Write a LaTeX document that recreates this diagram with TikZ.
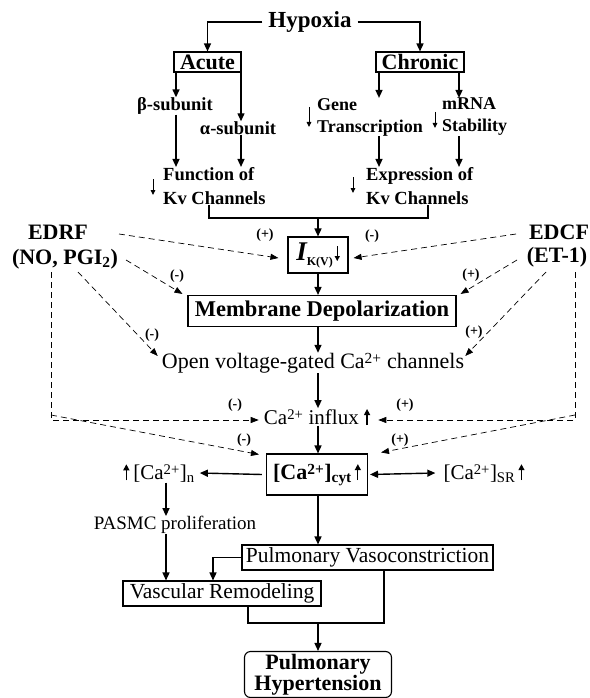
\documentclass[tikz,border=0pt]{standalone}
\usepackage{fontspec}
\setmainfont{Liberation Serif}
\usetikzlibrary{arrows.meta,calc}
\newcommand{\fsz}[1]{\fontsize{#1}{#1}\selectfont}
\newcommand{\spp}[1]{\textsuperscript{\raisebox{-0.2em}{#1}}}
\newcommand{\UA}{\tikz[baseline=0pt,x=1pt,y=1pt]{\draw[line width=1.3pt,-{Triangle[length=6pt,width=6pt]}] (0,-1) -- (0,15);}}
\newcommand{\DA}{\tikz[baseline=0pt,x=1pt,y=1pt]{\draw[line width=1.1pt,-{Triangle[length=5pt,width=5pt]}] (0,14) -- (0,-1);}}
\begin{document}
\begin{tikzpicture}[x=1pt,y=-1pt,
  ar/.style={line width=1.4pt,-{Triangle[length=8pt,width=7pt]}},
  sar/.style={line width=0.9pt,-{Triangle[length=5pt,width=4.5pt]}},
  da/.style={line width=0.7pt,dash pattern=on 6pt off 4pt,-{Triangle[length=8pt,width=6pt]}},
  bx/.style={draw,line width=1.1pt,inner sep=2pt},
  lab/.style={font=\fsz{14}\bfseries,inner sep=0pt},
  bt/.style={inner sep=0pt}]
\useasboundingbox (0,0) rectangle (589,698);

% top part
\node[bt,inner xsep=6pt,font=\fsz{23}\bfseries] (hyp) at (310,22) {Hypoxia};
\node[bx,inner sep=0pt,minimum width=67pt,minimum height=20pt,font=\fsz{22}\bfseries] (acute) at (207.5,62) {Acute};
\node[bx,inner sep=0pt,minimum width=88pt,minimum height=20pt,font=\fsz{22}\bfseries] (chronic) at (420,62) {Chronic};
\draw[ar] (hyp.west) -| (acute.north);
\draw[ar] (hyp.east) -| (chronic.north);

\node[bt,font=\fsz{18.5}\bfseries] (beta) at (175,106) {β-subunit};
\node[bt,font=\fsz{18.5}\bfseries] (alpha) at (238,128) {α-subunit};
\node[bt,anchor=west,align=left,font=\fontsize{18.5}{24.5}\selectfont\bfseries] (func) at (163,186) {Function of\\Kv Channels};
\node[bt,anchor=west,align=left,font=\fontsize{18}{22}\selectfont\bfseries] (gene) at (317,117) {Gene\\Transcription};
\node[bt,anchor=west,align=left,font=\fontsize{18}{22}\selectfont\bfseries] (mrna) at (442,117) {mRNA\\Stability};
\node[bt,anchor=west,align=left,font=\fontsize{18.5}{24.5}\selectfont\bfseries] (expr) at (366,186) {Expression of\\Kv Channels};

\coordinate (cB) at (176,0);
\coordinate (cA) at (241,0);
\coordinate (cG) at (379,0);
\coordinate (cM) at (459,0);
\draw[ar] (acute.south -| cB) -- (beta.north -| cB);
\draw[ar] (acute.south -| cA) -- (alpha.north -| cA);
\draw[ar] (beta.south -| cB) -- (func.north -| cB);
\draw[ar] (alpha.south -| cA) -- (func.north -| cA);
\draw[ar] (chronic.south -| cG) -- (gene.north -| cG);
\draw[ar] (chronic.south -| cM) -- (mrna.north -| cM);
\draw[ar] (gene.south -| cG) -- (expr.north -| cG);
\draw[ar] (mrna.south -| cM) -- (expr.north -| cM);

% small down arrows
\draw[sar] ($(func.west)+(-10,-7)$) -- ($(func.west)+(-10,9)$);
\draw[sar] ($(gene.west)+(-8,-10)$) -- ($(gene.west)+(-8,10)$);
\draw[sar] ($(mrna.west)+(-7,-5)$) -- ($(mrna.west)+(-7,11)$);
\draw[sar] ($(expr.west)+(-13,-9)$) -- ($(expr.west)+(-13,7)$);

% bracket
\coordinate (bl) at (209,218);
\coordinate (br) at (428,218);
\coordinate (bm) at (318,218);
\draw[line width=1.4pt] (func.south -| bl) -- (bl) -- (br) -- (expr.south -| br);

% central column
\node[bx,minimum width=60pt,minimum height=36pt,inner sep=1pt] (ik) at (318,255)
  {{\fsz{27}\bfseries\itshape I}\raisebox{-5pt}{\fsz{12}\bfseries K(V)}\hspace{2pt}\DA};
\draw[ar] (bm) -- (ik.north);
\node[bx,minimum width=268pt,minimum height=31pt,inner sep=0pt,font=\fsz{22.5}\bfseries] (md) at (322,311) {Membrane Depolarization};
\draw[ar] (ik.south) -- (md.north -| ik.south);
\node[bt,font=\fsz{22}] (open) at (313,363) {Open voltage-gated Ca\spp{2+} channels};
\draw[ar] (md.south -| bm) -- (open.north -| bm);
\node[bt,font=\fsz{21}] (influx) at (317,417) {Ca\spp{2+} influx \UA};
\draw[ar] (open.south -| bm) -- (influx.north -| bm);
\node[bx,minimum width=101pt,minimum height=41pt,font=\fsz{22}\bfseries] (cyt) at (317,474.5)
  {[Ca\spp{2+}]\textsubscript{cyt}\hspace{3pt}\UA};
\draw[ar] (influx.south -| bm) -- (cyt.north -| bm);
\node[bt,font=\fsz{21}] (can) at (159,473) {\UA\hspace{4pt}[Ca\spp{2+}]\textsubscript{n}};
\node[bt,font=\fsz{21}] (sr) at (484,473) {[Ca\spp{2+}]\textsubscript{SR}\hspace{3pt}\UA};
\draw[ar] ([xshift=-4pt]cyt.west) -- ([xshift=5pt]can.east);
\draw[line width=1.4pt,{Triangle[length=8pt,width=7pt]}-{Triangle[length=8pt,width=7pt]}] ([xshift=2pt]cyt.east) -- ([xshift=-8pt]sr.west);

\coordinate (cP) at (166,0);
\node[bt,font=\fsz{19}] (pasmc) at (175,525) {PASMC proliferation};
\draw[ar] (can.south -| cP) -- (pasmc.north -| cP);

\node[bx,minimum width=251pt,minimum height=25pt,inner sep=0pt,font=\fsz{21.5}] (pv) at (367.5,557.5) {Pulmonary Vasoconstriction};
\node[bx,minimum width=198pt,minimum height=25pt,inner sep=0pt,font=\fsz{21.5}] (vr) at (222,593.5) {Vascular Remodeling};
\draw[ar] (cyt.south -| bm) -- (pv.north -| bm);
\draw[ar] (pasmc.south -| cP) -- (vr.north -| cP);
\coordinate (cV) at (213,0);
\draw[ar] (pv.west) -| (vr.north -| cV);

\node[draw,line width=1.1pt,rounded corners=6pt,minimum width=147pt,minimum height=46pt,inner sep=0pt,align=center,
  font=\fontsize{22}{21}\selectfont\bfseries] (ph) at (318,674.5) {Pulmonary\\Hypertension};
\coordinate (jL) at (248,623);
\coordinate (jR) at (384,623);
\draw[line width=1.4pt] (vr.south -| jL) -- (jL) -- (jR) -- (pv.south -| jR);
\draw[ar] (ph.north |- jL) -- (ph.north);

% side factors
\node[bt,font=\fsz{22}\bfseries] (edrf) at (58,232) {EDRF};
\node[bt,font=\fsz{22}\bfseries] (nopgi) at (65,259) {(NO, PGI\textsubscript{2})};
\node[bt,font=\fsz{22}\bfseries] (edcf) at (559,232) {EDCF};
\node[bt,font=\fsz{22}\bfseries] (et1) at (557,257) {(ET-1)};

\coordinate (s1) at (119,234);
\coordinate (s2) at (516,234);
\coordinate (s3) at (126,260);
\coordinate (s4) at (78,272);
\coordinate (s5) at (517,260);
\coordinate (s6) at (546,272);
\coordinate (vL) at (51,272);
\coordinate (cL) at (51,415);
\coordinate (vR) at (575,272);
\coordinate (cR) at (575,415);

\draw[da] (s1) -- ([xshift=-9pt,yshift=-3pt]ik.west);
\draw[da] (s2) -- ([xshift=5pt,yshift=-3pt]ik.east);
\draw[da] (s3) -- ($(md.north west)+(-5,-1)$);
\draw[da] (s4) -- ($(open.west)+(-4,-7)$);
\draw[da] (s5) -- ($(md.north east)+(4,-1)$);
\draw[da] (s6) -- ($(open.east)+(1,-7)$);
\draw[da] (vL) |- ([xshift=-5pt,yshift=-3pt]influx.west);
\draw[da] (vR) |- ([xshift=8pt,yshift=-3pt]influx.east);
\draw[da] (cL) -- ($(cyt.north west)+(-7,1)$);
\draw[da] (cR) -- ($(cyt.north east)+(13,-1)$);

\node[lab] (l1) at (265,235) {(+)};
\node[lab] (l2) at (372,236) {(-)};
\node[lab] (l3) at (177,276) {(-)};
\node[lab] (l4) at (152,335) {(-)};
\node[lab] (l5) at (471,275) {(+)};
\node[lab] (l6) at (474,332) {(+)};
\node[lab] (l7) at (235,405) {(-)};
\node[lab] (l8) at (405,405) {(+)};
\node[lab] (l9) at (244,440) {(-)};
\node[lab] (l10) at (400,440) {(+)};
\end{tikzpicture}
\end{document}
